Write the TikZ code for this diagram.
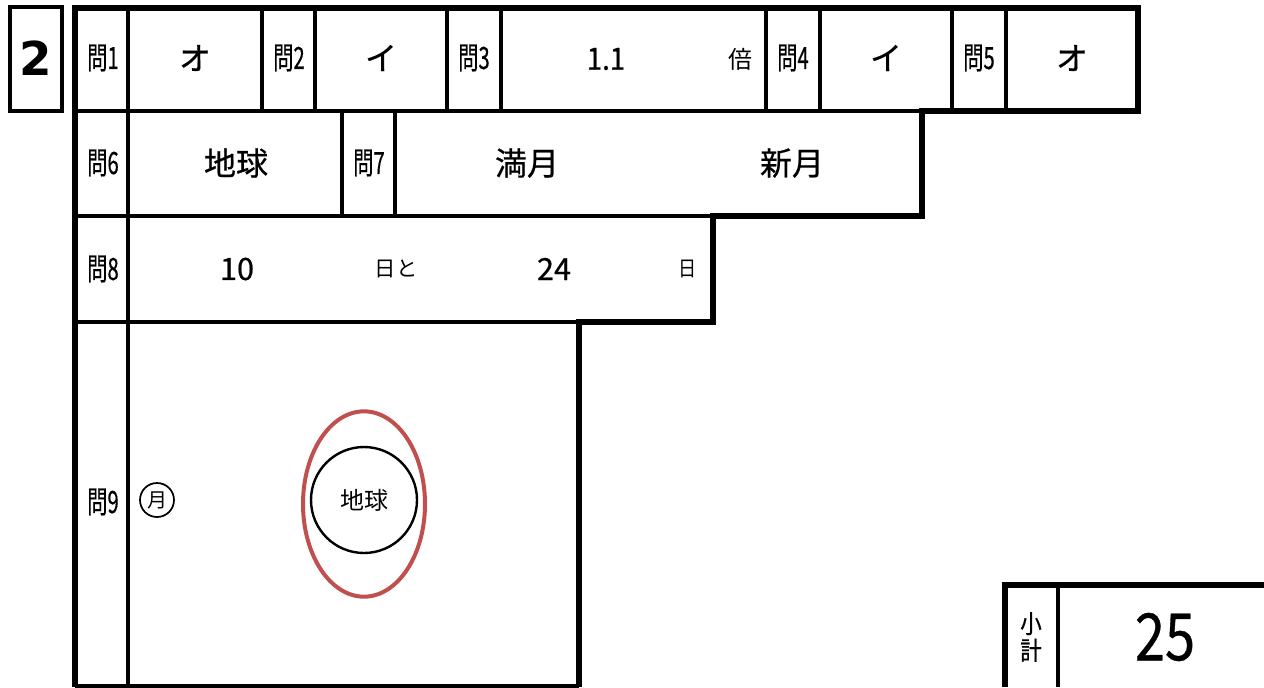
\documentclass[tikz,border=0pt]{standalone}
\usepackage{fontspec}
\usepackage{graphicx}
\newfontfamily\jp{Noto Sans CJK JP}
\newfontfamily\jpb{Noto Sans CJK JP}[FakeBold=0.6]
\newfontfamily\dv{DejaVu Sans}
\definecolor{ovalred}{RGB}{192,80,77}
\tikzset{
  outerline/.style={line width=3.8pt, line join=miter},
  innerline/.style={line width=2.3pt},
  txt/.style={inner sep=0pt, anchor=center},
  qlbl/.style={txt, font=\jpb\fontsize{23}{23}\selectfont},
  ans/.style={txt, font=\jpb\fontsize{24}{24}\selectfont},
  num/.style={txt, font=\jpb\fontsize{23}{23}\selectfont},
  unit/.style={txt, font=\jp\fontsize{16}{16}\selectfont},
}
\newcommand{\qn}[1]{\scalebox{0.66}[1]{#1}}
\begin{document}
\begin{tikzpicture}[x=0.75pt,y=-0.75pt]
\useasboundingbox (0,0) rectangle (1264,687);
% number box
\draw[line width=2.3pt] (10,7) rectangle (62,111);
\node[txt, font=\dv\bfseries\fontsize{35}{35}\selectfont] (two) at (36,58) {2};
% inner lines
\draw[innerline] (75,111) -- (922,111);
\draw[innerline] (75,216) -- (713,216);
\draw[innerline] (75,322) -- (579,322);
\draw[innerline] (75,686) -- (579,686);
\draw[innerline] (128,8) -- (128,687);
\foreach \x in {262,315,447,501,766,820,952,1006} \draw[innerline] (\x,8) -- (\x,111);
\foreach \x in {342,395} \draw[innerline] (\x,111) -- (\x,216);
% outer border
\draw[outerline] (75,687) -- (75,8) -- (1138,8) -- (1138,111) -- (922,111) -- (922,216) -- (713,216) -- (713,322) -- (579,322) -- (579,687);
% row 1
\node[qlbl] (q1) at (103,58) {\qn{問1}};
\node[ans] (a1) at (195,58) {オ};
\node[qlbl] (q2) at (289,58) {\qn{問2}};
\node[ans] (a2) at (381,58) {イ};
\node[qlbl] (q3) at (474,58) {\qn{問3}};
\node[num] (a3) at (606,59) {\scalebox{0.9}[1]{1.1}};
\node[txt, font=\jp\fontsize{18}{18}\selectfont] (a3u) at (740,59) {倍};
\node[qlbl] (q4) at (793,58) {\qn{問4}};
\node[ans] (a4) at (886,58) {イ};
\node[qlbl] (q5) at (979,58) {\qn{問5}};
\node[ans] (a5) at (1072,58) {オ};
% row 2
\node[qlbl] (q6) at (103,163) {\qn{問6}};
\node[ans] (a6) at (236,163) {地球};
\node[qlbl] (q7) at (369,163) {\qn{問7}};
\node[ans] (a7a) at (527,163) {満月};
\node[ans] (a7b) at (792,163) {新月};
% row 3
\node[qlbl] (q8) at (103,269) {\qn{問8}};
\node[num] (a8a) at (237,269) {10};
\node[unit] (a8u) at (396,269) {日と};
\node[num] (a8b) at (554,269) {24};
\node[unit] (a8v) at (688,269) {\scalebox{0.85}[1]{日}};
% row 4
\node[qlbl] (q9) at (103,502) {\qn{問9}};
\node[draw, circle, line width=1.3pt, minimum size=25.5pt, inner sep=0pt, font=\jp\fontsize{15}{15}\selectfont] (moon) at (157,500) {月};
\draw[line width=3pt, draw=ovalred] (364,504) ellipse [x radius=45.75pt, y radius=69.5pt];
\node[draw, circle, line width=1.8pt, minimum size=79.5pt, inner sep=0pt, font=\jp\fontsize{18}{18}\selectfont] (earth) at (364,500) {地球};
% subtotal box
\draw[outerline] (1005,687) -- (1005,585) -- (1264,585);
\draw[innerline] (1058,585) -- (1058,687);
\node[txt, font=\jpb\fontsize{19}{19}\selectfont, align=center] (sk) at (1031,637) {\scalebox{0.85}[1]{小}\\[1pt]\scalebox{0.85}[1]{計}};
\node[txt, font=\jpb\fontsize{49}{49}\selectfont] (score) at (1165,637) {\scalebox{0.83}[1]{25}};
\end{tikzpicture}
\end{document}
